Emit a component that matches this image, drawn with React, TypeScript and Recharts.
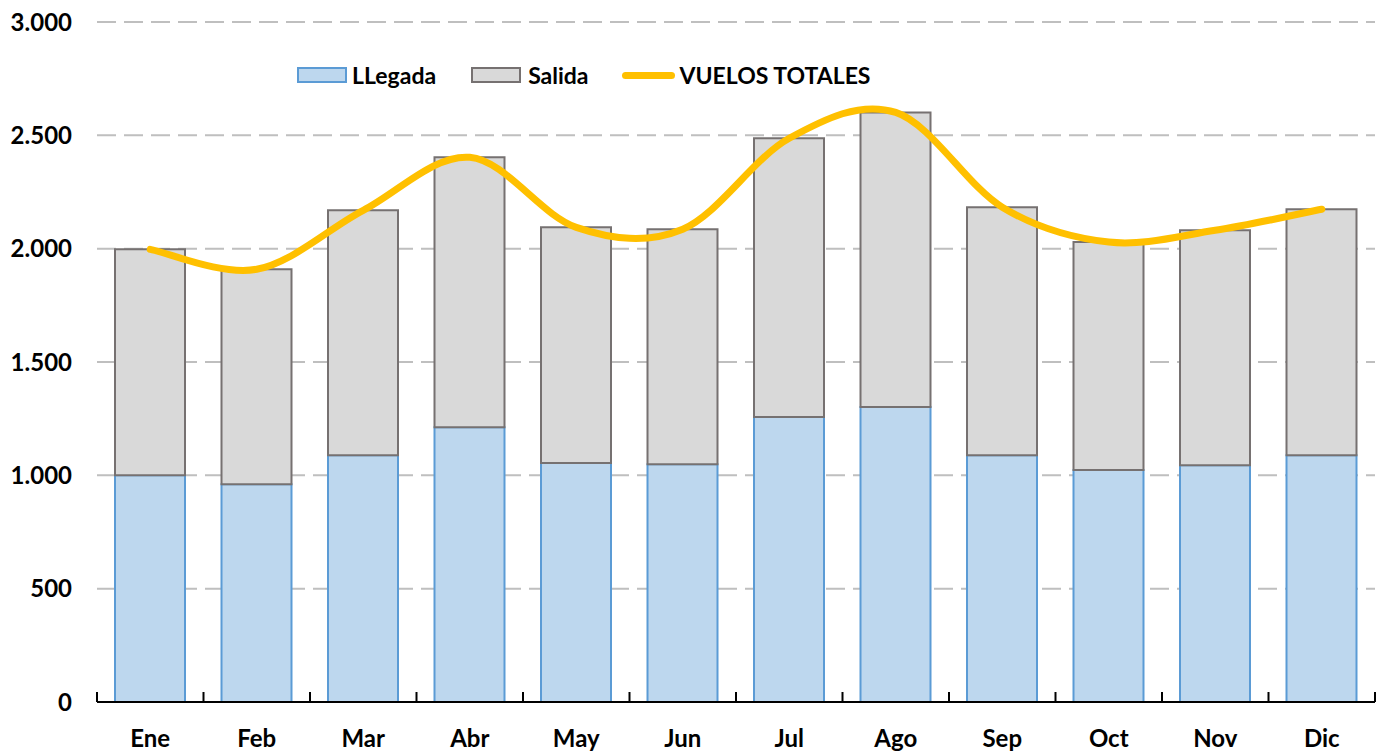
import React from "react"
import { ComposedChart, Bar, Line, XAxis, YAxis, CartesianGrid, Legend } from "recharts"

const months = ["Ene", "Feb", "Mar", "Abr", "May", "Jun", "Jul", "Ago", "Sep", "Oct", "Nov", "Dic"]
const llegada = [1000, 961, 1089, 1212, 1054, 1049, 1257, 1301, 1089, 1023, 1045, 1089]
const salida = [997, 948, 1080, 1191, 1040, 1037, 1230, 1300, 1094, 1006, 1036, 1085]
const yTicks = [0, 500, 1000, 1500, 2000, 2500, 3000]

const rows = months.map((m, i) => ({
  mes: m,
  llegada: llegada[i],
  salida: salida[i],
  total: llegada[i] + salida[i],
}))

const FONT = "Lato, 'Open Sans', sans-serif"
const TICK_MARGIN = 28

const fmt = (v: number) => String(v).replace(/\B(?=(\d{3})+(?!\d))/g, ".")

// Excel-like smoothing (uniform Catmull-Rom turned into cubic beziers)
function excelSmooth(context: any) {
  let pts: [number, number][] = []
  return {
    areaStart() {},
    areaEnd() {},
    lineStart() {
      pts = []
    },
    point(x: number, y: number) {
      pts.push([+x, +y])
    },
    lineEnd() {
      if (!pts.length) return
      context.moveTo(pts[0][0], pts[0][1])
      for (let i = 0; i < pts.length - 1; i++) {
        const p0 = pts[Math.max(i - 1, 0)]
        const p1 = pts[i]
        const p2 = pts[i + 1]
        const p3 = pts[Math.min(i + 2, pts.length - 1)]
        context.bezierCurveTo(
          p1[0] + (p2[0] - p0[0]) / 6,
          p1[1] + (p2[1] - p0[1]) / 6,
          p2[0] - (p3[0] - p1[0]) / 6,
          p2[1] - (p3[1] - p1[1]) / 6,
          p2[0],
          p2[1]
        )
      }
    },
  }
}

function MonthTick(props: any) {
  const { x, y, payload, index, visibleTicksCount } = props
  const half = payload?.offset ?? 0
  const axisY = y - TICK_MARGIN
  return (
    <g>
      <line x1={x - half} x2={x - half} y1={axisY} y2={axisY - 10} stroke="#000" strokeWidth={2} />
      {index === visibleTicksCount - 1 && (
        <line x1={x + half} x2={x + half} y1={axisY} y2={axisY - 10} stroke="#000" strokeWidth={2} />
      )}
      <text x={x} y={y} dy={17} textAnchor="middle" fontFamily={FONT} fontWeight={700} fontSize={24} fill="#000">
        {payload.value}
      </text>
    </g>
  )
}

function LegendBox() {
  const label = { fontFamily: FONT, fontWeight: 700, fontSize: 23, color: "#000", lineHeight: "24px" }
  return (
    <div style={{ display: "flex", alignItems: "center" }}>
      <span style={{ width: 46, height: 12, background: "#BDD7EE", border: "2px solid #5B9BD5", marginRight: 5 }} />
      <span style={{ ...label, marginRight: 35 }}>LLegada</span>
      <span style={{ width: 46, height: 12, background: "#D9D9D9", border: "2px solid #767171", marginRight: 7 }} />
      <span style={{ ...label, marginRight: 33 }}>Salida</span>
      <span style={{ width: 53, height: 7, background: "#FFC000", borderRadius: 4, marginRight: 5 }} />
      <span style={label}>VUELOS TOTALES</span>
    </div>
  )
}

export default function App() {
  return (
    <ComposedChart
      width={1370}
      height={745}
      data={rows}
      margin={{ top: 14, right: 3, left: 0, bottom: 0 }}
      barSize={70}
    >
      <CartesianGrid vertical={false} stroke="#bfbfbf" strokeWidth={2} strokeDasharray="19 8" />
      <XAxis
        dataKey="mes"
        height={51}
        axisLine={{ stroke: "#000", strokeWidth: 2 }}
        tickLine={false}
        tickSize={0}
        tickMargin={TICK_MARGIN}
        tick={<MonthTick />}
        interval={0}
      />
      <YAxis
        width={89}
        domain={[0, 3000]}
        ticks={yTicks}
        axisLine={false}
        tickLine={false}
        tickSize={0}
        tickMargin={25}
        tickFormatter={fmt}
        tick={{ fontFamily: FONT, fontWeight: 700, fontSize: 24, fill: "#000" }}
      />
      <Legend
        verticalAlign="middle"
        align="center"
        content={<LegendBox />}
        wrapperStyle={{ top: 55, left: 289, width: "auto" }}
      />
      <Bar dataKey="llegada" name="LLegada" stackId="a" fill="#BDD7EE" stroke="#5B9BD5" strokeWidth={2} isAnimationActive={false} />
      <Bar dataKey="salida" name="Salida" stackId="a" fill="#D9D9D9" stroke="#767171" strokeWidth={2} isAnimationActive={false} />
      <Line
        dataKey="total"
        name="VUELOS TOTALES"
        type={excelSmooth as any}
        stroke="#FFC000"
        strokeWidth={7}
        strokeLinecap="round"
        dot={false}
        activeDot={false}
        isAnimationActive={false}
      />
    </ComposedChart>
  )
}
